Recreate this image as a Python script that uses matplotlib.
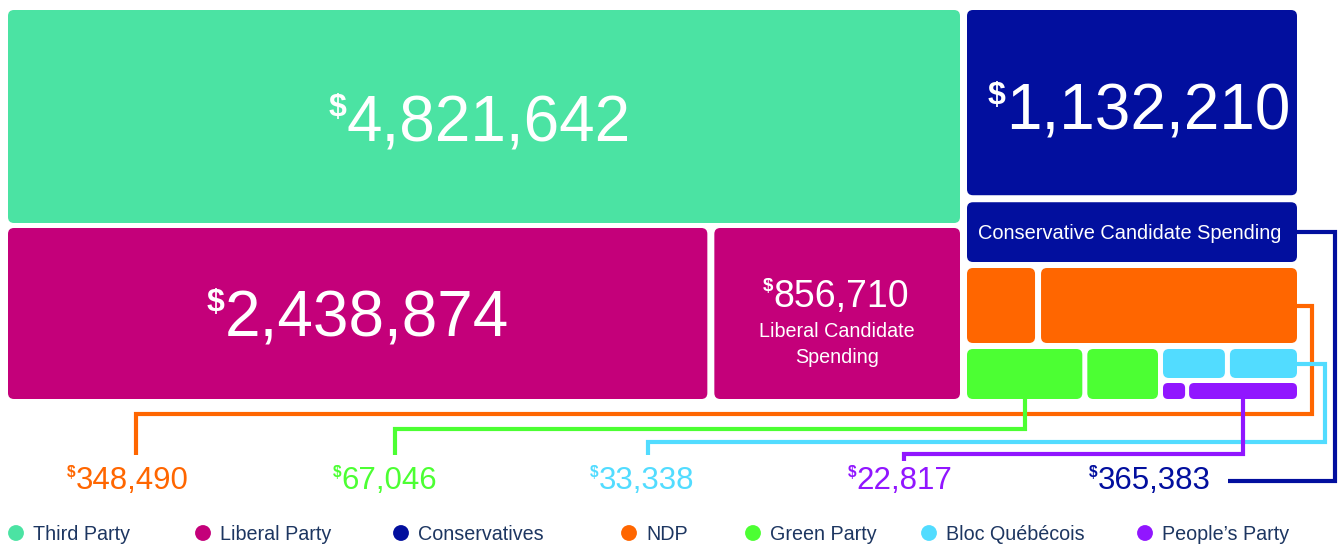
import numpy as np
import matplotlib.pyplot as plt
from matplotlib.patches import FancyBboxPatch

plt.rcParams["font.family"] = ["Liberation Sans", "DejaVu Sans"]

# spending in dollars
party_names = ["Third Party", "Liberal Party", "Conservatives", "NDP",
               "Green Party", "Bloc Québécois", "People’s Party"]
party_colors = ["#4be3a3", "#c4007a", "#020f9e", "#ff6600",
                "#4cff33", "#52dcff", "#9116ff"]

third_party = 4821642
liberal_party = 2438874
liberal_candidates = 856710
conservative_party = 1132210
conservative_candidates = 365383
ndp_total = 348490
green_total = 67046
bloc_total = 33338
ppc_total = 22817

# unlabeled sub-boxes of the small parties (shares)
ndp_split = [0.21, 0.79]
green_split = [0.62, 0.38]
bloc_split = [0.48, 0.52]
ppc_split = [0.17, 0.83]

W, H = 1338, 544
fig = plt.figure(figsize=(W / 100, H / 100), dpi=100)
ax = fig.add_axes([0, 0, 1, 1])
ax.set_xlim(0, W)
ax.set_ylim(H, 0)
ax.axis("off")


def split(a, b, weights, gap):
    w = np.asarray(weights, float)
    span = b - a - gap * (len(w) - 1)
    out, pos = [], a
    for v in w / w.sum() * span:
        out.append((pos, pos + v))
        pos += v + gap
    return out


def box(xs, ys, color, r=6):
    ax.add_patch(FancyBboxPatch((xs[0], ys[0]), xs[1] - xs[0], ys[1] - ys[0],
                                boxstyle=f"round,pad=0,rounding_size={r}",
                                fc=color, ec="none", zorder=2))


def money(cx, cy, value, size, color="white"):
    # cy = middle of the digits, "$" drawn as small superscript
    px = size / 0.72
    dollar_w = 0.556 * px * 0.5
    t = ax.text(cx + dollar_w / 2, cy + 0.358 * px, f"{value:,}", fontsize=size,
                color=color, ha="center", va="baseline", zorder=3)
    ax.annotate("$", xy=(0, 1), xycoords=t, xytext=(0, 1), textcoords="offset points",
                fontsize=size * 0.5, color=color, ha="right", va="top",
                fontweight="bold", zorder=3)
    return t


def mid(r):
    return (r[0] + r[1]) / 2


# ---------------- boxes ----------------
left_x = (8, 960)
teal_y = (10, 223)
lib_y = (228, 399)
right_x = (967, 1297)
con_y = (10, 262)
ndp_y = (268, 343)
green_x = (967, 1158)
small_y = (349, 399)
bq_x = (1163, 1297)
bloc_y = (349, 378)
ppc_y = (383, 399)

box(left_x, teal_y, party_colors[0])
lib_main, lib_cand = split(left_x[0], left_x[1], [liberal_party, liberal_candidates], 7)
box(lib_main, lib_y, party_colors[1])
box(lib_cand, lib_y, party_colors[1])

con_main, con_cand = split(con_y[0], con_y[1], [conservative_party, conservative_candidates], 7)
box(right_x, con_main, party_colors[2])
box(right_x, con_cand, party_colors[2])

ndp_boxes = split(right_x[0], right_x[1], ndp_split, 6)
for b in ndp_boxes:
    box(b, ndp_y, party_colors[3])
green_boxes = split(green_x[0], green_x[1], green_split, 5)
for b in green_boxes:
    box(b, small_y, party_colors[4])
bloc_boxes = split(bq_x[0], bq_x[1], bloc_split, 5)
for b in bloc_boxes:
    box(b, bloc_y, party_colors[5])
ppc_boxes = split(bq_x[0], bq_x[1], ppc_split, 4)
for b in ppc_boxes:
    box(b, ppc_y, party_colors[6], r=5)

# ---------------- texts inside boxes ----------------
money(mid(left_x) - 4, mid(teal_y) + 2, third_party, 46)
money(mid(lib_main), mid(lib_y), liberal_party, 46)
money(mid(right_x) + 7, mid(con_main) + 4, conservative_party, 46)
money(mid(lib_cand) - 1, mid(lib_y) - 20, liberal_candidates, 27)
ax.text(mid(lib_cand), 337, "Liberal Candidate", fontsize=14.2, color="white",
        ha="center", va="baseline", zorder=3)
ax.text(mid(lib_cand), 363, "Spending", fontsize=14.2, color="white",
        ha="center", va="baseline", zorder=3)
ax.text(mid(right_x) - 2, mid(con_cand) + 7, "Conservative Candidate Spending",
        fontsize=14.4, color="white", ha="center", va="baseline", zorder=3)

# ---------------- connectors + outside labels ----------------
label_x = [128, 385, 642, 900, 1150]
label_y = 478
lw = 3
kw = dict(lw=lw, solid_joinstyle="miter", solid_capstyle="butt", zorder=1)

# NDP
ax.plot([ndp_boxes[1][1], 1312, 1312, label_x[0] + 8, label_x[0] + 8],
        [mid(ndp_y), mid(ndp_y), 414, 414, 455], color=party_colors[3], **kw)
# Green
gx = mid(green_boxes[0])
ax.plot([gx, gx, label_x[1] + 10, label_x[1] + 10],
        [small_y[1], 429, 429, 455], color=party_colors[4], **kw)
# Bloc
ax.plot([bloc_boxes[1][1], 1325, 1325, label_x[2] + 6, label_x[2] + 6],
        [mid(bloc_y), mid(bloc_y), 442, 442, 455], color=party_colors[5], **kw)
# People's Party
px_ = mid(ppc_boxes[1])
ax.plot([px_, px_, label_x[3] + 4, label_x[3] + 4],
        [ppc_y[1], 454, 454, 461], color=party_colors[6], **kw)
# Conservative candidates
ax.plot([right_x[1], 1335, 1335, 1228],
        [mid(con_cand), mid(con_cand), 481, 481], color=party_colors[2], **kw)

outside = [ndp_total, green_total, bloc_total, ppc_total, conservative_candidates]
outside_colors = [party_colors[3], party_colors[4], party_colors[5],
                  party_colors[6], party_colors[2]]
for x, v, c in zip(label_x, outside, outside_colors):
    money(x, label_y, v, 22.5, color=c)

# ---------------- legend ----------------
legend_x = [16, 203, 401, 629, 753, 929, 1145]
ax.scatter(legend_x, [533] * len(legend_x), s=130, c=party_colors,
           marker="o", linewidths=0, zorder=3, clip_on=False)
for x, name in zip(legend_x, party_names):
    ax.text(x + 17, 540, name, fontsize=14.2, color="#1d3661",
            ha="left", va="baseline", clip_on=False)

fig.savefig("out.png", dpi=100)
